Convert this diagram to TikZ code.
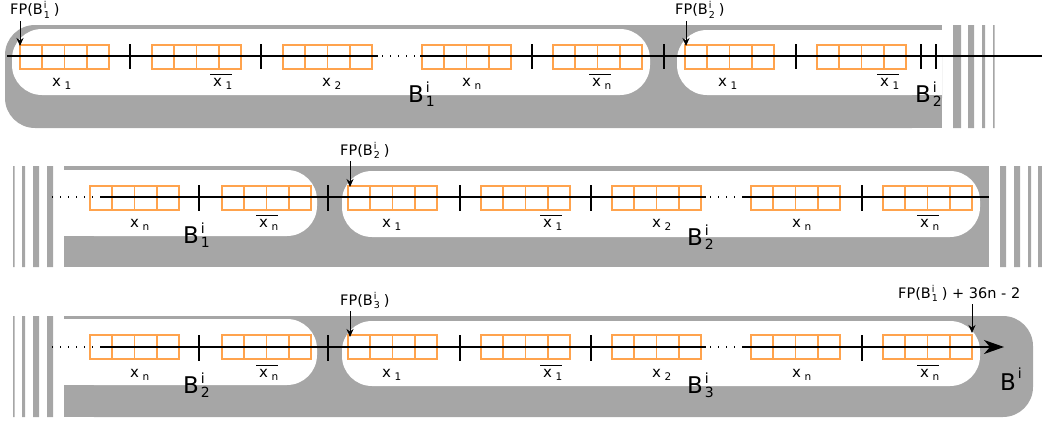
\documentclass[tikz,border=0pt]{standalone}
\usepackage{fontspec}
\setmainfont{DejaVu Sans}
\usetikzlibrary{arrows.meta}
\definecolor{bandgray}{RGB}{166,166,166}
\definecolor{cellorange}{RGB}{255,163,77}
\newcommand\xlab[1]{x\hspace{3.5pt}\raisebox{-3pt}{\fontsize{10.5}{11}\selectfont #1}}
\newcommand\xbar[1]{\setbox0\hbox{\xlab{#1}}\rlap{\raisebox{11pt}{\rule{\dimexpr\wd0+3pt\relax}{1.2pt}}}\hspace{3pt}\box0}
\newcommand\blab[1]{B\hspace{2pt}\rlap{\raisebox{10pt}{\fontsize{14}{14}\selectfont i}}\raisebox{-4pt}{\fontsize{14}{14}\selectfont #1}}
\newcommand\fplab[1]{FP(B\hspace{1pt}\rlap{\raisebox{6pt}{\fontsize{9.5}{10}\selectfont i}}\raisebox{-3pt}{\fontsize{9.5}{10}\selectfont #1}\hspace{4pt})}
\begin{document}
\begin{tikzpicture}[x=1pt,y=-1pt,
    band/.style={fill=bandgray},
    hole/.style={fill=white},
    tape/.style={line width=1.2pt},
    dotline/.style={line width=1.3pt, dash pattern=on 1.3pt off 6.7pt},
    thintick/.style={line width=1.1pt},
    thicktick/.style={line width=2.2pt},
    xtext/.style={font=\fontsize{15}{15}\selectfont, inner sep=0pt, anchor=base west},
    btext/.style={font=\fontsize{23}{23}\selectfont, inner sep=0pt, anchor=base west},
    fptext/.style={font=\fontsize{14.5}{15}\selectfont, inner sep=0pt, anchor=base west},
    fparrow/.style={-{Stealth[length=8pt,width=7pt]}, line width=1pt, shorten <=3pt},
    cells/.pic={
      \draw[cellorange, line width=1.7pt] (22.25,0) -- (22.25,24) (44.5,0) -- (44.5,24) (66.75,0) -- (66.75,24);
      \draw[cellorange, line width=2.6pt] (0,0) rectangle (89,24);
    }]
    \useasboundingbox (0,0) rectangle (1042,423);

    \fill[band, rounded corners=30pt] (5,25) rectangle (942,128);
    \fill[band] (600,25) rectangle (942,128);
    \fill[hole, rounded corners=30pt] (12,29) rectangle (650,95);
    \fill[hole, rounded corners=30pt] (677,30) rectangle (942,95);
    \fill[hole] (800,30) rectangle (942,95);
    \fill[band] (953,25) rectangle (961,128) (968,25) rectangle (974,128) (982,25) rectangle (985,128) (993,25) rectangle (994.5,128);
    \pic at (20,45) {cells};
    \pic at (152,45) {cells};
    \pic at (283,45) {cells};
    \pic at (422,45) {cells};
    \pic at (553,45) {cells};
    \pic at (685,45) {cells};
    \pic at (817,45) {cells};
    \draw[tape] (7,56) -- (378,56) (420,56) -- (1042,56);
    \draw[dotline] (382,56) -- (420,56);
    \draw[thintick] (130,44) -- (130,69) (921,44) -- (921,69);
    \draw[thicktick] (261,44) -- (261,69) (532,44) -- (532,69) (664,44) -- (664,69) (796,44) -- (796,69) (936,44) -- (936,69);
    \node[xtext] (ra1) at (52,86) {\xlab{1}};
    \node[xtext] (ra2) at (210,86) {\xbar{1}};
    \node[xtext] (ra3) at (322,86) {\xlab{2}};
    \node[xtext] (ra4) at (462,86) {\xlab{n}};
    \node[xtext] (ra5) at (589,86) {\xbar{n}};
    \node[xtext] (ra6) at (718,86) {\xlab{1}};
    \node[xtext] (ra7) at (877,86) {\xbar{1}};
    \node[btext] (ba1) at (408,102) {\blab{1}};
    \node[btext] (ba2) at (915,102) {\blab{2}};
    \node[fptext] (fpa1) at (10,15) {\fplab{1}};
    \node[fptext] (fpa2) at (675,15) {\fplab{2}};
    \coordinate (pa1) at (20,46);
    \coordinate (pa2) at (686,46);
    \draw[fparrow] (pa1 |- fpa1.south) -- (pa1);
    \draw[fparrow] (pa2 |- fpa2.south) -- (pa2);

    \fill[band] (64,166) rectangle (989,267);
    \fill[hole, rounded corners=30pt] (64,170) rectangle (317,236);
    \fill[hole] (64,170) rectangle (200,236);
    \fill[hole, rounded corners=30pt] (342,171) rectangle (980,237);
    \fill[band] (13,166) rectangle (14.5,267) (22,166) rectangle (25,267) (33,166) rectangle (39,267) (47,166) rectangle (53,267);
    \fill[band] (1000,166) rectangle (1006,267) (1014,166) rectangle (1020,267) (1028,166) rectangle (1031,267) (1038,166) rectangle (1042,267);
    \pic at (90,186) {cells};
    \pic at (222,186) {cells};
    \pic at (348,186) {cells};
    \pic at (481,186) {cells};
    \pic at (612,186) {cells};
    \pic at (751,186) {cells};
    \pic at (883,186) {cells};
    \draw[dotline] (52,197) -- (100,197) (710,197) -- (742,197);
    \draw[tape] (100,197) -- (706,197) (742,197) -- (989,197);
    \draw[thicktick] (199,185) -- (199,211) (328,185) -- (328,211) (460,185) -- (460,211) (591,185) -- (591,211) (862,185) -- (862,211);
    \node[xtext] (rb1) at (130,227) {\xlab{n}};
    \node[xtext] (rb2) at (256,227) {\xbar{n}};
    \node[xtext] (rb3) at (382,227) {\xlab{1}};
    \node[xtext] (rb4) at (540,227) {\xbar{1}};
    \node[xtext] (rb5) at (652,227) {\xlab{2}};
    \node[xtext] (rb6) at (792,227) {\xlab{n}};
    \node[xtext] (rb7) at (917,227) {\xbar{n}};
    \node[btext] (bb1) at (183,243) {\blab{1}};
    \node[btext] (bb2) at (687,245) {\blab{2}};
    \node[fptext] (fpb) at (340,155) {\fplab{2}};
    \coordinate (pb) at (350,187);
    \draw[fparrow] (pb |- fpb.south) -- (pb);

    \fill[band, rounded corners=30pt] (64,316) rectangle (1033,417);
    \fill[band] (64,316) rectangle (900,417);
    \fill[hole, rounded corners=30pt] (64,319) rectangle (317,385);
    \fill[hole] (64,319) rectangle (200,385);
    \fill[hole, rounded corners=30pt] (342,321) rectangle (980,386);
    \fill[band] (13,316) rectangle (14.5,417) (22,316) rectangle (25,417) (33,316) rectangle (39,417) (47,316) rectangle (53,417);
    \pic at (90,335) {cells};
    \pic at (222,335) {cells};
    \pic at (348,335) {cells};
    \pic at (481,335) {cells};
    \pic at (612,335) {cells};
    \pic at (751,335) {cells};
    \pic at (883,335) {cells};
    \draw[dotline] (52,347) -- (100,347) (710,347) -- (742,347);
    \draw[tape] (100,347) -- (706,347);
    \draw[tape, -{Stealth[length=20pt,width=14pt,inset=6pt]}] (742,347) -- (1004,347);
    \draw[thicktick] (199,335) -- (199,361) (328,335) -- (328,361) (460,335) -- (460,361) (591,335) -- (591,361) (862,335) -- (862,361);
    \node[xtext] (rc1) at (130,377) {\xlab{n}};
    \node[xtext] (rc2) at (256,377) {\xbar{n}};
    \node[xtext] (rc3) at (382,377) {\xlab{1}};
    \node[xtext] (rc4) at (540,377) {\xbar{1}};
    \node[xtext] (rc5) at (652,377) {\xlab{2}};
    \node[xtext] (rc6) at (792,377) {\xlab{n}};
    \node[xtext] (rc7) at (917,377) {\xbar{n}};
    \node[btext] (bc1) at (183,393) {\blab{2}};
    \node[btext] (bc2) at (687,393) {\blab{3}};
    \node[btext] (bc3) at (1000,390) {B\hspace{2pt}\raisebox{12pt}{\fontsize{14}{14}\selectfont i}};
    \node[fptext] (fpc) at (340,305) {\fplab{3}};
    \node[fptext] (fpd) at (898,298) {\fplab{1} + 36n - 2};
    \coordinate (pc) at (350,337);
    \coordinate (pd) at (972,333);
    \draw[fparrow] (pc |- fpc.south) -- (pc);
    \draw[fparrow] (pd |- fpd.south) -- (pd);
  \end{tikzpicture}
\end{document}
